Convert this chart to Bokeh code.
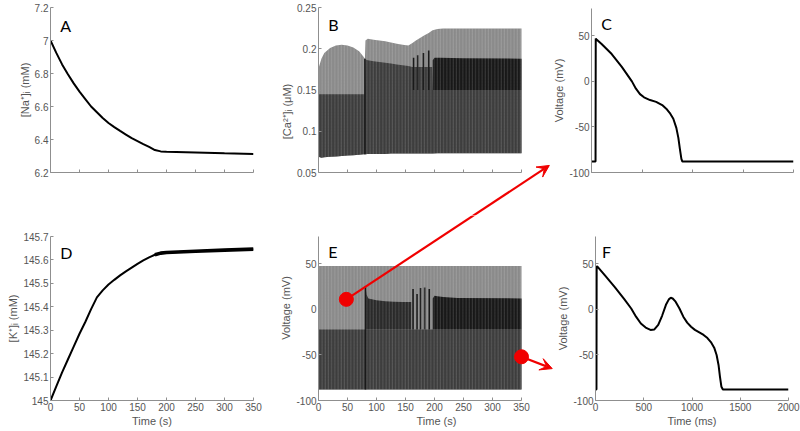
from bokeh.plotting import figure
from bokeh.layouts import column, row
from bokeh.models import Range1d, FixedTicker, CustomJSTickFormatter, Label, Arrow, VeeHead
from bokeh.embed import file_html
from bokeh.resources import INLINE

# ---------------- data ----------------
time_ticks_s = [0, 50, 100, 150, 200, 250, 300, 350]
time_ticks_ms = [0, 500, 1000, 1500, 2000]
na_ticks = [6.2, 6.4, 6.6, 6.8, 7.0, 7.2]
ca_ticks = [0.05, 0.1, 0.15, 0.2, 0.25]
k_ticks = [145, 145.1, 145.2, 145.3, 145.4, 145.5, 145.6, 145.7]
v_ticks = [-100, -50, 0, 50]

# A: [Na+]i
na_t = [0, 10, 20, 30, 40, 50, 60, 70, 80, 90, 100, 110, 120, 130, 140, 150, 160, 170, 180, 190, 200, 250, 300, 350]
na_c = [7.00, 6.925, 6.855, 6.795, 6.74, 6.69, 6.645, 6.60, 6.565, 6.53, 6.50, 6.475, 6.452, 6.43, 6.408,
        6.39, 6.372, 6.355, 6.336, 6.328, 6.326, 6.321, 6.316, 6.312]

# D: [K+]i
k_t = [0, 10, 20, 30, 40, 50, 60, 70, 80, 90, 100, 110, 120, 130, 140, 150, 160, 170, 180, 190, 200, 250, 300, 350]
k_c = [145.0, 145.06, 145.12, 145.175, 145.23, 145.285, 145.335, 145.39, 145.44, 145.47, 145.495, 145.515,
       145.534, 145.551, 145.567, 145.583, 145.598, 145.611, 145.622, 145.629, 145.632, 145.637, 145.642, 145.646]

# B: [Ca2+]i envelopes of the beat-to-beat transients
ca_t = [0, 5, 10, 20, 30, 40, 50, 60, 70, 78, 80, 81, 85, 95, 105, 115, 125, 135, 145, 155, 162, 168, 175,
        182, 190, 196, 197, 205, 215, 250, 300, 350]
ca_low = [0.069, 0.068, 0.0685, 0.069, 0.0695, 0.070, 0.0705, 0.071, 0.0715, 0.072, 0.072, 0.072, 0.0725,
          0.0725, 0.0725, 0.0725, 0.073, 0.073, 0.073, 0.073, 0.073, 0.073, 0.073, 0.073, 0.073, 0.073,
          0.073, 0.0733, 0.0733, 0.0734, 0.0734, 0.0734]
ca_high = [0.176, 0.188, 0.195, 0.201, 0.204, 0.205, 0.204, 0.2015, 0.197, 0.19, 0.188, 0.21, 0.212, 0.211,
           0.21, 0.209, 0.2075, 0.206, 0.205, 0.204, 0.207, 0.21, 0.213, 0.216, 0.219, 0.222, 0.2225, 0.224,
           0.2245, 0.2245, 0.2245, 0.2245]
ca_dark = [0.145, 0.145, 0.145, 0.145, 0.145, 0.145, 0.145, 0.145, 0.145, 0.145, 0.145, 0.187, 0.186, 0.185,
           0.184, 0.183, 0.182, 0.181, 0.18, 0.179, 0.178, 0.178, 0.178, 0.178, 0.178, 0.178, 0.15, 0.15,
           0.15, 0.15, 0.15, 0.15]
ca_band_t = [197, 200, 210, 250, 350]
ca_band_lo = [0.15, 0.15, 0.15, 0.15, 0.15]
ca_band_hi = [0.186, 0.189, 0.189, 0.1885, 0.188]
ca_spike_t = [80, 164, 171, 181, 190]
ca_spike_lo = [0.072, 0.15, 0.15, 0.15, 0.15]
ca_spike_hi = [0.188, 0.189, 0.192, 0.195, 0.198]

# E: membrane voltage envelopes
ve_t = [0, 80, 160, 197, 350]
ve_low = [-88, -88, -88, -88, -88]
ve_high = [47.5, 47.5, 47.5, 47.5, 47.5]
ve_dark = [-22, -22, -22, -22, -22]
ve_mid_t = [81, 83, 86, 100, 115, 130, 145, 160]
ve_mid_lo = [-22, -22, -22, -22, -22, -22, -22, -22]
ve_mid_hi = [25, 16, 12, 10, 9, 8.5, 8, 8]
ve_band_t = [197, 200, 205, 215, 240, 350]
ve_band_lo = [-22, -22, -22, -22, -22, -22]
ve_band_hi = [12, 15, 14.5, 13.5, 12.5, 12]
ve_spike_t = [81, 163, 170, 176, 183, 191]
ve_spike_lo = [-88, -22, -22, -22, -22, -22]
ve_spike_hi = [25, 22.4, 17, 23.5, 24, 22.4]

# markers on E, and where the two arrows end (E coordinates, beside C's and F's axes)
mark_t = [48, 350]
mark_v = [11, -52]
arrow_end_t = [398, 403]
arrow_end_v = [158, -65]

# C: action potential at the start (ms, mV)
apc_t = [0, 40, 42, 50, 100, 200, 300, 400, 440, 480, 520, 580, 640, 700, 740, 780, 810, 840, 860, 875, 890, 900, 2000]
apc_v = [-88, -88, 47, 46, 41, 30, 16, 0, -8, -14, -17.5, -20.5, -22.5, -26, -30, -35.5, -41, -51, -62, -74, -85, -88, -88]

# F: action potential at the end (ms, mV)
apf_t = [0, 10, 12, 20, 100, 200, 300, 370, 420, 470, 520, 570, 610, 650, 690, 730, 760, 780, 800, 830, 870,
         910, 950, 990, 1030, 1080, 1120, 1160, 1200, 1230, 1255, 1275, 1290, 1305, 1320, 2000]
apf_v = [-88, -88, 47, 47, 37, 24.5, 11, 1, -8, -15.5, -20, -22.5, -22, -17, -7, 5, 11, 12.7, 12, 8.5, 1,
         -8, -14.5, -19, -22.5, -25.5, -28, -31.5, -36.5, -42, -50, -61, -74, -85, -88, -88]

# ---------------- styling / layout ----------------
FONT = "Liberation Sans"
AXC = "#8f8f8f"
TXT = "#555555"
MED, DARK, DEEP, BLACK = "#8a8a8a", "#3d3d3d", "#2a2a2a", "#181818"
RED = "#f00000"

# canvas (x, y, w, h), axis box (l, r, t, b), frame box (l, r, t, b) in page px
LAYOUT = {
    "A": ((0, 0, 265, 215), (50, 253, 7, 172), (50, 253, 7, 172)),
    "B": ((265, 0, 285, 215), (318, 521, 7, 172), (318, 550, 7, 215)),
    "C": ((550, 0, 250, 215), (587, 793, 8, 172), (587, 793, 8, 172)),
    "D": ((0, 215, 265, 216), (50, 253, 236, 400), (50, 253, 236, 400)),
    "E": ((265, 215, 289, 216), (318, 521, 236, 400), (318, 554, 215, 400)),
    "F": ((554, 215, 246, 216), (590, 788, 236, 400), (590, 788, 236, 400)),
}
FRAMES = {}


def make(key, xr, yr, xticks, yticks, ylabel, xlabel=None):
    (cx, cy, w, h), (al, ar, at, ab), (fl, fr, ft, fb) = LAYOUT[key]
    sx = (xr[1] - xr[0]) / (ar - al)
    sy = (yr[1] - yr[0]) / (ab - at)
    x_rng = (xr[0] - (al - fl) * sx, xr[1] + (fr - ar) * sx)
    y_rng = (yr[0] - (fb - ab) * sy, yr[1] + (at - ft) * sy)
    FRAMES[key] = dict(l=fl, r=fr, t=ft, b=fb, x0=x_rng[0], x1=x_rng[1], y0=y_rng[0], y1=y_rng[1])
    p = figure(width=w, height=h, x_range=Range1d(*x_rng), y_range=Range1d(*y_rng),
               output_backend="svg", toolbar_location=None, frame_align=False,
               min_border_left=fl - cx, min_border_right=cx + w - fr,
               min_border_top=ft - cy, min_border_bottom=cy + h - fb)
    p.outline_line_color = None
    p.xgrid.visible = False
    p.ygrid.visible = False
    for ax in (p.xaxis[0], p.yaxis[0]):
        ax.axis_line_color = AXC
        ax.major_tick_line_color = AXC
        ax.major_tick_in = 3
        ax.major_tick_out = 0
        ax.minor_tick_line_color = None
        ax.major_label_text_font = FONT
        ax.major_label_text_font_size = "10px"
        ax.major_label_text_color = TXT
        ax.major_label_standoff = 2
        ax.axis_label_text_font = FONT
        ax.axis_label_text_font_size = "11px"
        ax.axis_label_text_font_style = "normal"
        ax.axis_label_text_color = TXT
        ax.axis_label_standoff = 1
        ax.formatter = CustomJSTickFormatter(code="return tick.toString();")
    p.xaxis.ticker = FixedTicker(ticks=xticks)
    p.yaxis.ticker = FixedTicker(ticks=yticks)
    p.xaxis.bounds = xr
    p.yaxis.bounds = yr
    if fb != ab:
        p.xaxis.fixed_location = yr[0]
    p.yaxis.axis_label = ylabel
    if xlabel:
        p.xaxis.axis_label = xlabel
    else:
        p.xaxis.formatter = CustomJSTickFormatter(code="return '';")
    return p


def letter(p, x, y, t):
    p.add_layout(Label(x=x, y=y, text=t, text_font="Lato", text_font_size="16px",
                       text_color="black", text_baseline="alphabetic"))


def to_page(f, x, y):
    return (f["l"] + (x - f["x0"]) / (f["x1"] - f["x0"]) * (f["r"] - f["l"]),
            f["b"] - (y - f["y0"]) / (f["y1"] - f["y0"]) * (f["b"] - f["t"]))


def to_data(f, px, py):
    return (f["x0"] + (px - f["l"]) / (f["r"] - f["l"]) * (f["x1"] - f["x0"]),
            f["y0"] + (f["b"] - py) / (f["b"] - f["t"]) * (f["y1"] - f["y0"]))


S_RANGE = (0, 350)
V_RANGE = (-100, 80)
MS_RANGE = (0, 2000)

# ---- A ----
pA = make("A", S_RANGE, (6.2, 7.2), time_ticks_s, na_ticks, "[Na⁺]ᵢ (mM)")
pA.line(na_t, na_c, line_color="black", line_width=2)
letter(pA, 17, 7.09, "A")

# ---- B ----
pB = make("B", S_RANGE, (0.05, 0.25), time_ticks_s, ca_ticks, "[Ca²⁺]ᵢ (μM)")
pB.varea(x=ca_t, y1=ca_low, y2=ca_high, fill_color=MED)
pB.varea(x=ca_t, y1=ca_low, y2=ca_dark, fill_color=DARK)
pB.varea(x=ca_band_t, y1=ca_band_lo, y2=ca_band_hi, fill_color=BLACK)
pB.segment(x0=ca_spike_t, y0=ca_spike_lo, x1=ca_spike_t, y1=ca_spike_hi, line_color=BLACK, line_width=1.6)
pB.varea(x=ca_t, y1=ca_low, y2=ca_high, fill_alpha=0, hatch_pattern="|", hatch_scale=3.2,
         hatch_color="white", hatch_alpha=0.22, hatch_weight=0.7)
letter(pB, 17, 0.2294, "B")

# ---- C ----
pC = make("C", MS_RANGE, V_RANGE, time_ticks_ms, v_ticks, "Voltage (mV)")
pC.line(apc_t, apc_v, line_color="black", line_width=2)
letter(pC, 97, 63, "C")

# ---- D ----
pD = make("D", S_RANGE, (145, 145.7), time_ticks_s, k_ticks, "[K⁺]ᵢ (mM)", "Time (s)")
pD.line(k_t, k_c, line_color="black", line_width=2)
k_late_t = [t for t in k_t if t >= 180]
k_late_c = [c for t, c in zip(k_t, k_c) if t >= 180]
pD.line(k_late_t, k_late_c, line_color="black", line_width=3.6)
letter(pD, 17, 145.633, "D")

# ---- E ----
pE = make("E", S_RANGE, V_RANGE, time_ticks_s, v_ticks, "Voltage (mV)", "Time (s)")
pE.varea(x=ve_t, y1=ve_low, y2=ve_high, fill_color=MED)
pE.varea(x=ve_t, y1=ve_low, y2=ve_dark, fill_color=DARK)
pE.varea(x=ve_mid_t, y1=ve_mid_lo, y2=ve_mid_hi, fill_color=DEEP)
pE.varea(x=ve_band_t, y1=ve_band_lo, y2=ve_band_hi, fill_color=BLACK)
pE.segment(x0=ve_spike_t, y0=ve_spike_lo, x1=ve_spike_t, y1=ve_spike_hi, line_color=BLACK, line_width=1.6)
pE.varea(x=ve_t, y1=ve_low, y2=ve_high, fill_alpha=0, hatch_pattern="|", hatch_scale=3.2,
         hatch_color="white", hatch_alpha=0.22, hatch_weight=0.7)
pE.scatter(mark_t, mark_v, size=14, color=RED)
letter(pE, 17, 63.5, "E")

# ---- F ----
pF = make("F", MS_RANGE, V_RANGE, time_ticks_ms, v_ticks, "Voltage (mV)", "Time (ms)")
pF.line(apf_t, apf_v, line_color="black", line_width=2)
letter(pF, 67, 63.5, "F")

# ---- arrows (E markers -> C and F) ----
fB, fE = FRAMES["B"], FRAMES["E"]
# arrow 1: its lower part is drawn in E, its upper part (with the head) in B
pE.add_layout(Arrow(x_start=mark_t[0], y_start=mark_v[0], x_end=arrow_end_t[0], y_end=arrow_end_v[0],
                    end=None, line_color=RED, line_width=2.2))
sB = to_data(fB, *to_page(fE, mark_t[0], mark_v[0]))
eB = to_data(fB, *to_page(fE, arrow_end_t[0], arrow_end_v[0]))
pB.add_layout(Arrow(x_start=sB[0], y_start=sB[1], x_end=eB[0], y_end=eB[1], line_color=RED, line_width=2.2,
                    end=VeeHead(size=12, fill_color=RED, line_color=RED, line_width=1)))
# arrow 2: wholly inside E
pE.add_layout(Arrow(x_start=mark_t[1], y_start=mark_v[1], x_end=arrow_end_t[1], y_end=arrow_end_v[1],
                    line_color=RED, line_width=2.2,
                    end=VeeHead(size=12, fill_color=RED, line_color=RED, line_width=1)))

layout = column(row(pA, pB, pC), row(pD, pE, pF))
open("out.html", "w").write(file_html(layout, INLINE))
